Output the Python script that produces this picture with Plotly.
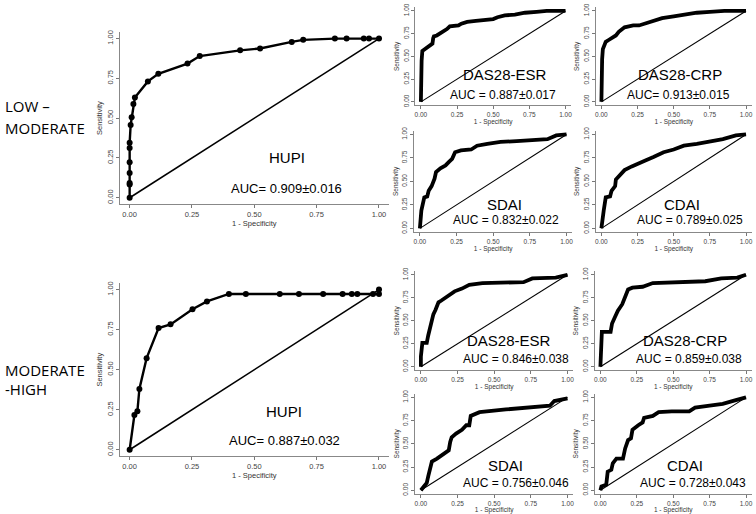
import plotly.graph_objects as go

W, H = 756, 514

# ---------------- data ----------------
tick_vals = [0, 0.25, 0.5, 0.75, 1.0]
tick_text = ["0.00", "0.25", "0.50", "0.75", "1.00"]
row_labels = ["LOW –", "MODERATE", "MODERATE", "-HIGH"]

hupi_lm_fpr = [0, 0, 0, 0, 0, 0, 0, 0.004, 0.008, 0.015, 0.021, 0.073, 0.115, 0.232, 0.281, 0.443, 0.523, 0.65, 0.696, 0.823, 0.87, 0.939, 0.96, 1.0]
hupi_lm_tpr = [0, 0.083, 0.093, 0.155, 0.223, 0.312, 0.345, 0.457, 0.506, 0.589, 0.63, 0.731, 0.779, 0.843, 0.890, 0.926, 0.938, 0.979, 0.992, 1.0, 1.0, 1.0, 1.0, 1.0]

hupi_mh_fpr = [0, 0.019, 0.031, 0.039, 0.068, 0.116, 0.164, 0.252, 0.31, 0.398, 0.466, 0.602, 0.679, 0.776, 0.854, 0.891, 0.913, 0.976, 1.0, 1.0]
hupi_mh_tpr = [0, 0.217, 0.24, 0.38, 0.572, 0.76, 0.783, 0.878, 0.926, 0.973, 0.973, 0.973, 0.973, 0.973, 0.973, 0.973, 0.973, 0.973, 0.973, 1.0]

esr_lm_fpr = [0, 0, 0.005, 0.01, 0.03, 0.05, 0.07, 0.08, 0.085, 0.09, 0.11, 0.13, 0.15, 0.17, 0.18, 0.20, 0.23, 0.26, 0.28, 0.32, 0.38, 0.45, 0.50, 0.53, 0.58, 0.65, 0.72, 0.80, 0.87, 1.0]
esr_lm_tpr = [0, 0.2, 0.45, 0.56, 0.58, 0.60, 0.62, 0.64, 0.70, 0.72, 0.73, 0.75, 0.77, 0.78, 0.80, 0.83, 0.84, 0.84, 0.86, 0.88, 0.89, 0.90, 0.91, 0.93, 0.95, 0.96, 0.98, 0.99, 1.0, 1.0]

crp_lm_fpr = [0, 0, 0.005, 0.01, 0.02, 0.03, 0.05, 0.07, 0.09, 0.10, 0.12, 0.14, 0.16, 0.19, 0.22, 0.26, 0.30, 0.33, 0.37, 0.42, 0.50, 0.58, 0.66, 0.75, 0.85, 1.0]
crp_lm_tpr = [0, 0.25, 0.47, 0.58, 0.62, 0.66, 0.68, 0.70, 0.72, 0.73, 0.77, 0.80, 0.82, 0.83, 0.84, 0.84, 0.86, 0.88, 0.90, 0.92, 0.94, 0.96, 0.98, 0.99, 1.0, 1.0]

sdai_lm_fpr = [0, 0.01, 0.03, 0.05, 0.06, 0.08, 0.10, 0.11, 0.14, 0.175, 0.20, 0.22, 0.24, 0.28, 0.35, 0.39, 0.46, 0.55, 0.66, 0.78, 0.87, 0.93, 1.0]
sdai_lm_tpr = [0, 0.19, 0.33, 0.34, 0.40, 0.45, 0.53, 0.60, 0.64, 0.67, 0.71, 0.74, 0.81, 0.83, 0.84, 0.88, 0.90, 0.92, 0.93, 0.94, 0.95, 0.99, 1.0]

cdai_lm_fpr = [0, 0.01, 0.016, 0.03, 0.06, 0.07, 0.095, 0.10, 0.13, 0.16, 0.21, 0.25, 0.30, 0.36, 0.43, 0.50, 0.57, 0.66, 0.75, 0.84, 0.93, 1.0]
cdai_lm_tpr = [0, 0.09, 0.19, 0.33, 0.34, 0.40, 0.45, 0.52, 0.57, 0.62, 0.66, 0.69, 0.72, 0.76, 0.81, 0.84, 0.88, 0.90, 0.92, 0.95, 0.99, 1.0]

esr_mh_fpr = [0, 0, 0.01, 0.04, 0.05, 0.06, 0.075, 0.085, 0.10, 0.12, 0.14, 0.165, 0.20, 0.23, 0.28, 0.33, 0.42, 0.54, 0.70, 0.76, 0.92, 1.0]
esr_mh_tpr = [0, 0.11, 0.26, 0.26, 0.34, 0.41, 0.47, 0.57, 0.62, 0.70, 0.72, 0.75, 0.79, 0.82, 0.85, 0.89, 0.91, 0.91, 0.92, 0.96, 0.97, 1.0]

crp_mh_fpr = [0, 0.005, 0.01, 0.07, 0.08, 0.10, 0.12, 0.15, 0.17, 0.19, 0.22, 0.29, 0.36, 0.49, 0.72, 0.83, 0.94, 1.0]
crp_mh_tpr = [0, 0.18, 0.38, 0.38, 0.47, 0.54, 0.61, 0.68, 0.75, 0.84, 0.86, 0.87, 0.91, 0.92, 0.93, 0.96, 0.97, 1.0]

sdai_mh_fpr = [0, 0.02, 0.04, 0.05, 0.06, 0.075, 0.11, 0.15, 0.19, 0.20, 0.21, 0.24, 0.28, 0.31, 0.33, 0.34, 0.40, 0.58, 0.74, 0.88, 0.91, 1.0]
sdai_mh_tpr = [0, 0.04, 0.08, 0.15, 0.22, 0.31, 0.34, 0.38, 0.43, 0.52, 0.57, 0.61, 0.65, 0.70, 0.70, 0.80, 0.84, 0.87, 0.89, 0.91, 0.96, 0.99]

cdai_mh_fpr = [0, 0.007, 0.04, 0.05, 0.075, 0.085, 0.11, 0.155, 0.17, 0.19, 0.21, 0.22, 0.26, 0.29, 0.30, 0.36, 0.40, 0.49, 0.61, 0.65, 0.75, 0.84, 0.93, 1.0]
cdai_mh_tpr = [0, 0.04, 0.06, 0.20, 0.22, 0.29, 0.34, 0.34, 0.45, 0.54, 0.56, 0.65, 0.70, 0.73, 0.78, 0.80, 0.84, 0.85, 0.85, 0.89, 0.91, 0.93, 0.97, 1.0]

names = ["HUPI", "DAS28-ESR", "DAS28-CRP", "SDAI", "CDAI",
         "HUPI", "DAS28-ESR", "DAS28-CRP", "SDAI", "CDAI"]
auc_labels = ["AUC= 0.909±0.016", "AUC = 0.887±0.017", "AUC= 0.913±0.015",
              "AUC = 0.832±0.022", "AUC = 0.789±0.025",
              "AUC= 0.887±0.032", "AUC = 0.846±0.038", "AUC = 0.859±0.038",
              "AUC = 0.756±0.046", "AUC = 0.728±0.043"]
curves = [(hupi_lm_fpr, hupi_lm_tpr), (esr_lm_fpr, esr_lm_tpr), (crp_lm_fpr, crp_lm_tpr),
          (sdai_lm_fpr, sdai_lm_tpr), (cdai_lm_fpr, cdai_lm_tpr),
          (hupi_mh_fpr, hupi_mh_tpr), (esr_mh_fpr, esr_mh_tpr), (crp_mh_fpr, crp_mh_tpr),
          (sdai_mh_fpr, sdai_mh_tpr), (cdai_mh_fpr, cdai_mh_tpr)]

# ---------------- layout geometry (pixel positions of data 0 and 1) ----------------
# (big, x0px, x1px, y0px, y1px, name_pos, auc_pos)
geom = [
    (True, 129, 379, 196, 35, (0.63, 0.25), (0.63, 0.06)),
    (False, 421, 566, 99, 7, (0.58, 0.30), (0.565, 0.07)),
    (False, 602, 747, 99, 7, (0.54, 0.30), (0.535, 0.07)),
    (False, 420, 567, 227, 132, (0.58, 0.25), (0.585, 0.085)),
    (False, 602, 747, 227, 132, (0.56, 0.25), (0.61, 0.085)),
    (True, 129, 379, 451, 289, (0.62, 0.24), (0.62, 0.056)),
    (False, 421, 568, 367, 274, (0.60, 0.29), (0.65, 0.08)),
    (False, 601, 747, 367, 274, (0.58, 0.29), (0.61, 0.08)),
    (False, 421, 568, 492, 398, (0.58, 0.27), (0.65, 0.08)),
    (False, 601, 747, 492, 398, (0.58, 0.27), (0.635, 0.08)),
]

PAD = 0.04
TXT = "Liberation Sans, Arial, sans-serif"

fig = go.Figure()
annotations = []
layout_axes = {}

for i, ((fpr, tpr), name, auc, (big, x0, x1, y0, y1, npos, apos)) in enumerate(
        zip(curves, names, auc_labels, geom), start=1):
    xa = "x" if i == 1 else f"x{i}"
    ya = "y" if i == 1 else f"y{i}"
    xw = x1 - x0
    yh = y0 - y1
    xdom = [(x0 - PAD * xw) / W, (x1 + PAD * xw) / W]
    ydom = [1 - (y0 + PAD * yh) / H, 1 - (y1 - PAD * yh) / H]
    tfs = 7.5 if big else 6.5
    common = dict(
        range=[-PAD, 1 + PAD], tickvals=tick_vals, ticktext=tick_text,
        ticks="outside", ticklen=3, tickwidth=1, tickcolor="#777",
        showline=True, linecolor="#888", linewidth=1, mirror=False,
        showgrid=False, zeroline=False, fixedrange=True,
        tickfont=dict(family=TXT, size=tfs, color="#444"),
    )
    layout_axes["xaxis" if i == 1 else f"xaxis{i}"] = dict(
        common, domain=xdom, anchor=ya,
        title=dict(text="1 - Specificity", font=dict(family=TXT, size=tfs, color="#333"), standoff=1),
    )
    layout_axes["yaxis" if i == 1 else f"yaxis{i}"] = dict(
        common, domain=ydom, anchor=xa, tickangle=-90,
        title=dict(text="Sensitivity", font=dict(family=TXT, size=tfs, color="#333"), standoff=2),
    )
    fig.add_trace(go.Scatter(x=[0, 1], y=[0, 1], mode="lines", xaxis=xa, yaxis=ya,
                             line=dict(color="black", width=1.6 if big else 1.1),
                             showlegend=False, hoverinfo="skip"))
    if big:
        fig.add_trace(go.Scatter(x=fpr, y=tpr, mode="lines+markers", xaxis=xa, yaxis=ya,
                                 line=dict(color="black", width=2.4),
                                 marker=dict(color="black", size=6),
                                 showlegend=False))
    else:
        fig.add_trace(go.Scatter(x=fpr, y=tpr, mode="lines", xaxis=xa, yaxis=ya,
                                 line=dict(color="black", width=3.8),
                                 showlegend=False))
    annotations.append(dict(text=name, x=npos[0], y=npos[1], xref=xa, yref=ya, showarrow=False,
                            xanchor="center", yanchor="middle",
                            font=dict(family=TXT, size=15, color="black")))
    annotations.append(dict(text=auc, x=apos[0], y=apos[1], xref=xa, yref=ya, showarrow=False,
                            xanchor="center", yanchor="middle",
                            font=dict(family=TXT, size=13 if big else 12, color="black")))

for txt, ypx in zip(row_labels, [103, 125, 370, 390]):
    annotations.append(dict(text=txt, x=2 / W, y=1 - ypx / H, xref="paper", yref="paper",
                            xanchor="left", yanchor="middle", showarrow=False,
                            font=dict(family="Open Sans, sans-serif", size=15, color="black")))

fig.update_layout(
    width=W, height=H, margin=dict(l=0, r=0, t=0, b=0),
    paper_bgcolor="white", plot_bgcolor="white",
    annotations=annotations, showlegend=False,
    **layout_axes,
)

fig.write_html("out.html", config={"displayModeBar": False},
               post_script="document.body.style.margin='0';")
